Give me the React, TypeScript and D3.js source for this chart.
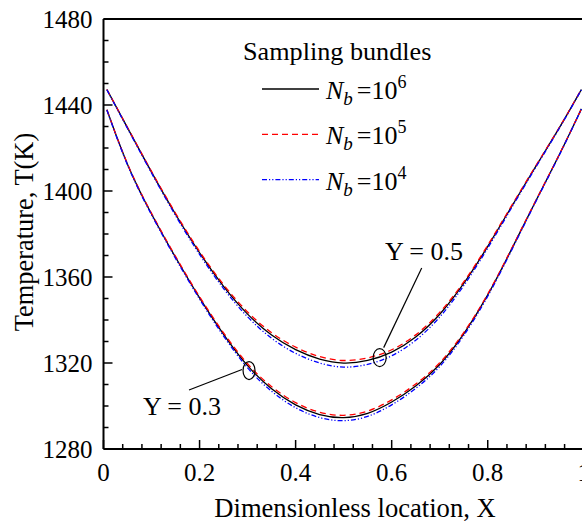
import * as d3 from "d3";
import React from "react";

// sampled positions along X
const xs = [0.007, 0.05, 0.1, 0.15, 0.2, 0.25, 0.3, 0.35, 0.4, 0.45, 0.5, 0.55, 0.6, 0.65, 0.7, 0.75, 0.8, 0.85, 0.9, 0.95, 0.995];

// Y = 0.5
const y05_n6 = [1447.2, 1429.4, 1408.6, 1388.9, 1370.9, 1355.2, 1342.2, 1332.5, 1325.8, 1321.4, 1319.4, 1320.8, 1324.5, 1331.5, 1342, 1356.5, 1374, 1393, 1411.5, 1429.5, 1447.2];
const y05_n5 = [1447.2, 1429.6, 1408.9, 1389.4, 1371.5, 1356.0, 1343.2, 1333.6, 1327.0, 1322.6, 1320.6, 1322.0, 1325.6, 1332.5, 1342.9, 1357.2, 1374.5, 1393.4, 1411.8, 1429.6, 1447.3];
const y05_n4 = [1447.1, 1429.1, 1408.2, 1388.3, 1370.1, 1354.2, 1340.9, 1331.0, 1324.1, 1319.6, 1317.5, 1319.0, 1322.8, 1330.0, 1340.7, 1355.5, 1373.2, 1392.4, 1411.1, 1429.3, 1447.1];

// Y = 0.3
const y03_n6 = [1437.8, 1411, 1389, 1369, 1350, 1333, 1318, 1307.5, 1300, 1295.5, 1294, 1296, 1301.5, 1309, 1318.5, 1333, 1351, 1373, 1395.5, 1417, 1438.2];
const y03_n5 = [1437.8, 1411.2, 1389.3, 1369.4, 1350.5, 1333.7, 1318.9, 1308.5, 1301.1, 1296.6, 1295.1, 1297.1, 1302.5, 1309.9, 1319.3, 1333.6, 1351.4, 1373.3, 1395.7, 1417.1, 1438.2];
const y03_n4 = [1437.7, 1410.7, 1388.6, 1368.5, 1349.4, 1332.2, 1317.0, 1306.3, 1298.7, 1294.1, 1292.6, 1294.6, 1300.2, 1307.8, 1317.5, 1332.2, 1350.4, 1372.5, 1395.2, 1416.8, 1438.1];

const xTicks = [0, 0.2, 0.4, 0.6, 0.8, 1];
const xTickLabels = ["0", "0.2", "0.4", "0.6", "0.8", "1"];
const yTicks = [1280, 1320, 1360, 1400, 1440, 1480];

const series = [
  { name: "6", color: "#000", dash: "none", sets: [y05_n6, y03_n6] },
  { name: "5", color: "#ff0000", dash: "6,4", sets: [y05_n5, y03_n5] },
  { name: "4", color: "#0000ff", dash: "5,2,1.2,2,1.2,2", sets: [y05_n4, y03_n4] },
];

const FONT = "Liberation Serif";

const App = () => {
  const x = d3.scaleLinear().domain([0, 1]).range([103.5, 583.8]);
  const y = d3.scaleLinear().domain([1280, 1480]).range([449, 19]);

  const line = d3
    .line<number>()
    .x((_, i) => x(xs[i]))
    .y((d) => y(d))
    .curve(d3.curveBasis);

  const xMinor = d3.range(0, 1.0001, 0.04).map((v) => +v.toFixed(2));
  const yMinor = d3.range(1280, 1481, 10);

  // annotation anchors
  const e5 = { cx: x(0.575), cy: y(1322.5) };
  const e3 = { cx: x(0.303), cy: y(1316.5) };

  return (
    <svg width={582} height={524} style={{ position: "absolute", left: 0, top: 0 }}>
      <rect width={582} height={524} fill="#fff" />

      {/* curves */}
      {series.map((s) =>
        s.sets.map((vals, k) => (
          <path key={s.name + k} d={line(vals) || ""} fill="none" stroke={s.color} strokeWidth={1.3} strokeDasharray={s.dash} />
        ))
      )}

      {/* frame */}
      <line x1={x(0)} x2={x(1)} y1={y(1480)} y2={y(1480)} stroke="#000" strokeWidth={2} />
      <line x1={x(0)} x2={x(0)} y1={y(1280)} y2={y(1480)} stroke="#000" strokeWidth={2} />
      <line x1={x(0)} x2={x(1)} y1={y(1280)} y2={y(1280)} stroke="#000" strokeWidth={2} />

      {/* ticks */}
      {yMinor.map((v) => (
        <line key={"ym" + v} x1={x(0)} x2={x(0) + (v % 40 === 0 ? 9 : 5)} y1={y(v)} y2={y(v)} stroke="#000" strokeWidth={1.5} />
      ))}
      {xMinor.map((v) => (
        <line key={"xm" + v} x1={x(v)} x2={x(v)} y1={y(1280)} y2={y(1280) - (Math.abs(v * 5 - Math.round(v * 5)) < 1e-6 ? 9 : 5)} stroke="#000" strokeWidth={1.5} />
      ))}

      <g fontFamily={FONT}>
        {yTicks.map((v) => (
          <text key={"yl" + v} x={x(0) - 11} y={y(v)} dy="0.35em" textAnchor="end" fontSize={25}>
            {v}
          </text>
        ))}
        {xTicks.map((v, i) => (
          <text key={"xl" + v} x={x(v)} y={481} textAnchor="middle" fontSize={25}>
            {xTickLabels[i]}
          </text>
        ))}

        <text x={355} y={517} textAnchor="middle" fontSize={26.6}>
          Dimensionless location, X
        </text>
        <text transform="translate(33,232) rotate(-90)" textAnchor="middle" fontSize={26.4}>
          Temperature, T(K)
        </text>

        {/* legend */}
        <text x={243} y={60} fontSize={26.2}>Sampling bundles</text>
        {series.map((s, i) => {
          const ly = 89 + i * 45.3;
          return (
            <g key={"lg" + s.name}>
              <line x1={262} x2={319} y1={ly} y2={ly} stroke={s.color} strokeWidth={1.3} strokeDasharray={s.dash} />
              <text x={326} y={ly + 10} fontSize={26}>
                <tspan fontStyle="italic">N</tspan>
                <tspan fontStyle="italic" fontSize={19} dy={6}>b</tspan>
                <tspan dy={-6} dx={4}>=10</tspan>
                <tspan fontSize={18} dy={-11}>{s.name}</tspan>
              </text>
            </g>
          );
        })}

        {/* annotations */}
        <text x={385} y={260} fontSize={26}>Y = 0.5</text>
        <text x={143} y={415} fontSize={26}>Y = 0.3</text>
      </g>

      <ellipse cx={e5.cx} cy={e5.cy} rx={6.5} ry={9} fill="none" stroke="#000" strokeWidth={1.2} />
      <line x1={e5.cx + 4} y1={e5.cy - 10} x2={421.7} y2={268} stroke="#000" strokeWidth={1.2} />
      <ellipse cx={e3.cx} cy={e3.cy} rx={6} ry={9} fill="none" stroke="#000" strokeWidth={1.2} />
      <line x1={e3.cx - 7} y1={e3.cy - 1} x2={189} y2={390} stroke="#000" strokeWidth={1.2} />
    </svg>
  );
};

export default App;
